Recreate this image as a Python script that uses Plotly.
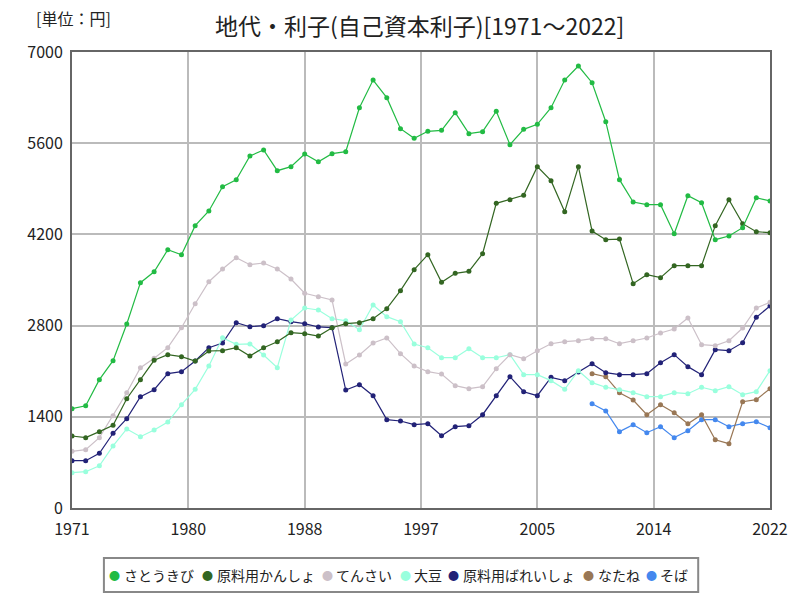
import plotly.graph_objects as go

years = list(range(1971, 2023))

satoukibi = [1524, 1570, 1970, 2261, 2825, 3459, 3627, 3965, 3888, 4334,
             4559, 4933, 5040, 5404, 5496, 5178, 5240, 5434, 5316, 5439,
             5470, 6145, 6570, 6299, 5823, 5675, 5783, 5798, 6069, 5746,
             5777, 6090, 5577, 5813, 5890, 6145, 6570, 6785, 6529, 5930,
             5040, 4697, 4656, 4656, 4211, 4794, 4687, 4119, 4175, 4303,
             4763, 4713]

kansho = [1105, 1080, 1172, 1269, 1678, 1970, 2267, 2354, 2323, 2257,
          2410, 2415, 2461, 2333, 2461, 2553, 2691, 2676, 2640, 2768,
          2829, 2845, 2906, 3060, 3336, 3658, 3888, 3464, 3602, 3633,
          3904, 4677, 4733, 4800, 5240, 5025, 4549, 5240, 4252, 4119,
          4129, 3444, 3582, 3536, 3720, 3720, 3720, 4334, 4733, 4365,
          4242, 4226]

tensai = [870, 895, 1080, 1417, 1770, 2154, 2298, 2461, 2768, 3136,
          3474, 3669, 3842, 3735, 3761, 3669, 3515, 3296, 3244, 3193,
          2211, 2349, 2533, 2610, 2369, 2180, 2093, 2057, 1878, 1832,
          1863, 2139, 2354, 2292, 2415, 2522, 2553, 2568, 2599, 2599,
          2522, 2568, 2610, 2686, 2748, 2917, 2507, 2492, 2568, 2763,
          3070, 3158]

daizu = [542, 557, 649, 952, 1213, 1095, 1197, 1320, 1586, 1822,
         2180, 2614, 2513, 2518, 2349, 2154, 2886, 3070, 3039, 2906,
         2875, 2737, 3116, 2937, 2860, 2518, 2461, 2307, 2307, 2446,
         2307, 2307, 2354, 2047, 2047, 1955, 1822, 2108, 1924, 1853,
         1817, 1770, 1709, 1709, 1770, 1755, 1853, 1801, 1863, 1740,
         1786, 2108]

bareisho = [726, 726, 840, 1147, 1371, 1709, 1816, 2062, 2093, 2257,
            2461, 2533, 2845, 2783, 2799, 2906, 2860, 2829, 2779, 2768,
            1811, 1893, 1724, 1356, 1336, 1279, 1294, 1110, 1248, 1263,
            1432, 1724, 2016, 1785, 1724, 2006, 1955, 2088, 2215, 2077,
            2047, 2047, 2062, 2231, 2354, 2170, 2047, 2430, 2415, 2538,
            2927, 3101]

late_years = list(range(2009, 2023))
natane = [2062, 2016, 1770, 1658, 1432, 1586, 1463, 1294, 1432, 1048,
          987, 1632, 1663, 1832]
soba = [1601, 1489, 1172, 1279, 1156, 1248, 1080, 1187, 1356, 1356,
        1248, 1294, 1325, 1233]

names = ["さとうきび", "原料用かんしょ", "てんさい", "大豆", "原料用ばれいしょ", "なたね", "そば"]
colors = ["#22bb44", "#336622", "#ccc0c8", "#99ffdd", "#222277", "#997755", "#4488ee"]
series = [(years, satoukibi), (years, kansho), (years, tensai), (years, daizu),
          (years, bareisho), (late_years, natane), (late_years, soba)]

tick_vals = [1971, 1979.5, 1988, 1996.5, 2005, 2013.5, 2022]
tick_text = ["1971", "1980", "1988", "1997", "2005", "2014", "2022"]
y_ticks = [0, 1400, 2800, 4200, 5600, 7000]

FONT = "Noto Sans CJK JP"

# plot-area geometry in pixels (for paper-coordinate conversion of legend)
L, R, T, B = 72, 772, 52, 508
def px(x):
    return (x - L) / (R - L)
def py(y):
    return (B - y) / (B - T)

fig = go.Figure()
for (xs, ys), name, c in reversed(list(zip(series, names, colors))):
    fig.add_trace(go.Scatter(x=xs, y=ys, mode="lines+markers", name=name,
                             line=dict(color=c, width=1.2),
                             marker=dict(color=c, size=5),
                             showlegend=False))

# custom legend (single row, boxed)
legend_dot_x = [115, 208, 328, 406, 455, 590, 653]
annotations = []
for name, c, dx in zip(names, colors, legend_dot_x):
    annotations.append(dict(text="●", xref="paper", yref="paper", x=px(dx), y=py(575),
                            xanchor="center", yanchor="middle", showarrow=False,
                            font=dict(size=11, color=c, family=FONT)))
    annotations.append(dict(text=name, xref="paper", yref="paper", x=px(dx + 7), y=py(575),
                            xanchor="left", yanchor="middle", showarrow=False,
                            font=dict(size=14, color="#222222", family=FONT)))
annotations.append(dict(text="[単位：円]", xref="paper", yref="paper", x=px(34), y=py(18),
                        xanchor="left", yanchor="middle", showarrow=False,
                        font=dict(size=16, family=FONT, color="#222222")))
annotations.append(dict(text="地代・利子(自己資本利子)[1971～2022]", xref="paper", yref="paper",
                        x=px(420), y=py(25), xanchor="center", yanchor="middle", showarrow=False,
                        font=dict(size=23, family=FONT, color="#222222")))

fig.update_layout(
    width=800, height=600,
    margin=dict(l=L, r=800 - R, t=T, b=600 - B),
    paper_bgcolor="white", plot_bgcolor="white",
    font=dict(family=FONT, color="#222222", size=15),
    showlegend=False,
    annotations=annotations,
    shapes=[dict(type="rect", xref="paper", yref="paper", x0=px(104), x1=px(700),
                 y0=py(592), y1=py(558), line=dict(color="#888888", width=2),
                 fillcolor="rgba(0,0,0,0)")],
)
fig.update_xaxes(range=[1971, 2022], tickvals=tick_vals, ticktext=tick_text,
                 showgrid=True, gridcolor="#bbbbbb", gridwidth=2,
                 showline=True, linecolor="#666666", linewidth=2, mirror=True,
                 ticks="", zeroline=False, tickfont=dict(size=16), ticklabelstandoff=6)
fig.update_yaxes(range=[0, 7000], tickvals=y_ticks,
                 showgrid=True, gridcolor="#bbbbbb", gridwidth=2,
                 showline=True, linecolor="#666666", linewidth=2, mirror=True,
                 ticks="", zeroline=False, tickfont=dict(size=16), ticklabelstandoff=4)

fig.write_html("out.html")
